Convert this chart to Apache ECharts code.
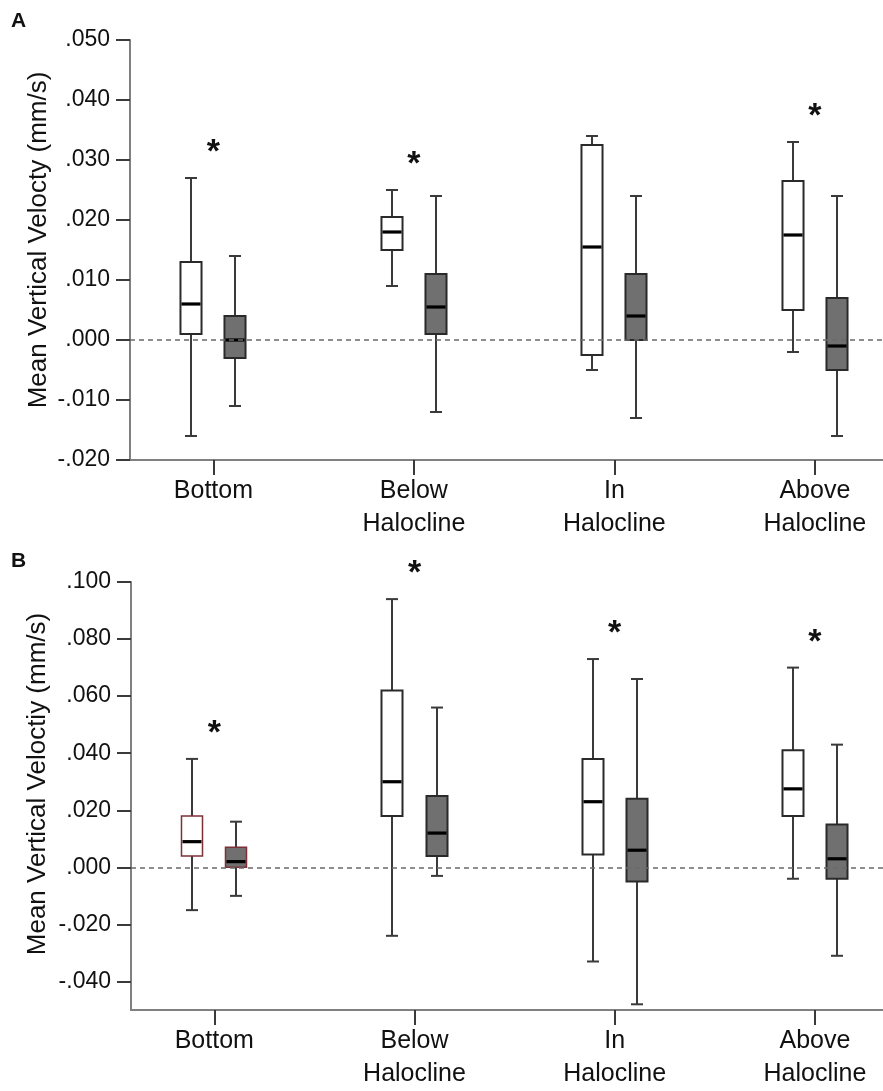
<!DOCTYPE html>
<html>
<head>
<meta charset="utf-8">
<title>Mean vertical velocity by layer</title>
<script src="https://cdn.jsdelivr.net/npm/echarts@6/dist/echarts.min.js"></script>
<style>
  html, body { margin: 0; padding: 0; background: #fff; }
  #chart { width: 883px; height: 1091px; }
</style>
</head>
<body>
<div id="chart"></div>
<script>
// Layers along the water column (x categories)
const categories = ['Bottom', 'Below\nHalocline', 'In\nHalocline', 'Above\nHalocline'];

// Box summaries per layer: [min, Q1, median, Q3, max]  (mm/s)
// Panel A
const aOpen = [
  [-0.016, 0.001, 0.006, 0.013, 0.027],
  [0.009, 0.015, 0.018, 0.0205, 0.025],
  [-0.005, -0.0025, 0.0155, 0.0325, 0.034],
  [-0.002, 0.005, 0.0175, 0.0265, 0.033]
];
const aShaded = [
  [-0.011, -0.003, 0.0, 0.004, 0.014],
  [-0.012, 0.001, 0.0055, 0.011, 0.024],
  [-0.013, 0.0, 0.004, 0.011, 0.024],
  [-0.016, -0.005, -0.001, 0.007, 0.024]
];
const aSignificant = [true, true, false, true];

// Panel B
const bOpen = [
  [-0.015, 0.004, 0.009, 0.018, 0.038],
  [-0.024, 0.018, 0.030, 0.062, 0.094],
  [-0.033, 0.0045, 0.023, 0.038, 0.073],
  [-0.004, 0.018, 0.0275, 0.041, 0.070]
];
const bShaded = [
  [-0.010, 0.0, 0.002, 0.007, 0.016],
  [-0.003, 0.004, 0.012, 0.025, 0.056],
  [-0.048, -0.005, 0.006, 0.024, 0.066],
  [-0.031, -0.004, 0.003, 0.015, 0.043]
];
const bSignificant = [true, true, true, true];

// Axis ticks
const aYTicks = [-0.02, -0.01, 0, 0.01, 0.02, 0.03, 0.04, 0.05];
const bYTicks = [-0.04, -0.02, 0, 0.02, 0.04, 0.06, 0.08, 0.1];
const xTicks = [0, 1, 2, 3];

// ---- drawing settings ----
const FONT = '"Liberation Sans", Arial, Helvetica, sans-serif';
const BOX_OFFSET = 0.11;   // half-distance between paired boxes (x units)
const BOX_W = 0.105;       // box width (x units)
const CAP_W = 0.06;        // whisker cap width (x units)
const SHADE = '#707070';
const EDGE = '#2a2a2a';
const WHISKER = '#3a3a3a';
const INK = '#111';

function fmtTick(v) {
  if (Math.abs(v) < 1e-9) return '.000';
  const s = Math.abs(v).toFixed(3).replace(/^0/, '');
  return (v < 0 ? '-' : '') + s;
}

function toItems(rows) {
  return rows.map((r, i) => [i].concat(r));
}

function boxRenderer(offset, fill, edgeFn) {
  return function (params, api) {
    const x = api.value(0) + offset;
    const lo = api.coord([x, api.value(1)]);
    const q1 = api.coord([x, api.value(2)]);
    const md = api.coord([x, api.value(3)]);
    const q3 = api.coord([x, api.value(4)]);
    const hi = api.coord([x, api.value(5)]);
    const bw = api.size([BOX_W, 0])[0];
    const cw = api.size([CAP_W, 0])[0];
    const cx = Math.round(lo[0]);
    const edge = edgeFn ? edgeFn(params.dataIndex) : null;
    const wStyle = { stroke: WHISKER, lineWidth: 2 };
    return {
      type: 'group',
      children: [
        { type: 'line', shape: { x1: cx, y1: hi[1], x2: cx, y2: q3[1] }, style: wStyle },
        { type: 'line', shape: { x1: cx, y1: q1[1], x2: cx, y2: lo[1] }, style: wStyle },
        { type: 'line', shape: { x1: cx - cw / 2, y1: hi[1], x2: cx + cw / 2, y2: hi[1] }, style: wStyle },
        { type: 'line', shape: { x1: cx - cw / 2, y1: lo[1], x2: cx + cw / 2, y2: lo[1] }, style: wStyle },
        {
          type: 'rect',
          shape: { x: cx - bw / 2, y: q3[1], width: bw, height: q1[1] - q3[1] },
          style: { fill: fill, stroke: edge || EDGE, lineWidth: edge ? 1.5 : 2 }
        },
        {
          type: 'line',
          shape: { x1: cx - bw / 2 + 1, y1: md[1], x2: cx + bw / 2 - 1, y2: md[1] },
          style: { stroke: '#000', lineWidth: 3.2 }
        }
      ]
    };
  };
}

// asterisk marks: placed a fixed gap above the taller whisker of each pair
function starItems(open, shaded, sig) {
  const out = [];
  sig.forEach((s, i) => {
    if (s) out.push([i, Math.max(open[i][4], shaded[i][4])]);
  });
  return out;
}
function starRenderer(params, api) {
  const p = api.coord([api.value(0), api.value(1)]);
  return {
    type: 'text',
    style: {
      text: '*',
      x: p[0],
      y: p[1] - 25,
      align: 'center',
      verticalAlign: 'middle',
      font: 'bold 34px ' + FONT,
      fill: INK
    }
  };
}

function xAxisFor(grid) {
  return {
    gridIndex: grid,
    type: 'value',
    min: -0.416,
    max: 3.34,
    splitLine: { show: false },
    axisLine: { show: true, onZero: false, lineStyle: { color: '#808080', width: 2 } },
    axisTick: { show: true, customValues: xTicks, length: 15, lineStyle: { color: '#3a3a3a', width: 2 } },
    axisLabel: {
      customValues: xTicks,
      formatter: v => categories[Math.round(v)],
      margin: 15,
      fontFamily: FONT,
      fontSize: 25,
      lineHeight: 33,
      color: INK
    }
  };
}

function yAxisFor(grid, min, max, ticks) {
  return {
    gridIndex: grid,
    type: 'value',
    min: min,
    max: max,
    splitLine: { show: false },
    axisLine: { show: true, onZero: false, lineStyle: { color: '#808080', width: 2 } },
    axisTick: { show: true, customValues: ticks, length: 14, lineStyle: { color: '#3a3a3a', width: 2 } },
    axisLabel: {
      customValues: ticks,
      formatter: fmtTick,
      margin: 20,
      fontFamily: FONT,
      fontSize: 23,
      color: INK
    }
  };
}

const zeroLine = {
  silent: true,
  symbol: 'none',
  label: { show: false },
  lineStyle: { type: [5, 4], color: '#6a6a6a', width: 1.5 },
  data: [{ yAxis: 0 }]
};

const panelBEdge = i => (i === 0 ? '#7d3038' : null);

const chart = echarts.init(document.getElementById('chart'), null, { renderer: 'canvas' });
chart.setOption({
  animation: false,
  backgroundColor: '#fff',
  grid: [
    { left: 130, top: 40, right: 0, height: 420 },
    { left: 131, top: 582, right: 0, height: 431 }
  ],
  xAxis: [xAxisFor(0), xAxisFor(1)],
  yAxis: [
    yAxisFor(0, -0.02, 0.05, aYTicks),
    yAxisFor(1, -0.05, 0.1, bYTicks)
  ],
  graphic: [
    { type: 'text', left: 11, top: 11, style: { text: 'A', font: 'bold 21px ' + FONT, fill: INK } },
    { type: 'text', left: 11, top: 551, style: { text: 'B', font: 'bold 21px ' + FONT, fill: INK } },
    {
      type: 'text', x: 39, y: 240, rotation: Math.PI / 2,
      style: { text: 'Mean Vertical Velocty (mm/s)', align: 'center', verticalAlign: 'middle', font: '26px ' + FONT, fill: INK }
    },
    {
      type: 'text', x: 38, y: 784, rotation: Math.PI / 2,
      style: { text: 'Mean Vertical Veloctiy (mm/s)', align: 'center', verticalAlign: 'middle', font: '26px ' + FONT, fill: INK }
    }
  ],
  series: [
    {
      type: 'custom', xAxisIndex: 0, yAxisIndex: 0, z: 2,
      encode: { x: 0, y: [1, 2, 3, 4, 5] },
      renderItem: boxRenderer(-BOX_OFFSET, '#fff', null),
      data: toItems(aOpen)
    },
    {
      type: 'custom', xAxisIndex: 0, yAxisIndex: 0, z: 3,
      encode: { x: 0, y: [1, 2, 3, 4, 5] },
      renderItem: boxRenderer(BOX_OFFSET, SHADE, null),
      data: toItems(aShaded),
      markLine: zeroLine
    },
    {
      type: 'custom', xAxisIndex: 0, yAxisIndex: 0, z: 4,
      encode: { x: 0, y: 1 },
      renderItem: starRenderer,
      data: starItems(aOpen, aShaded, aSignificant)
    },
    {
      type: 'custom', xAxisIndex: 1, yAxisIndex: 1, z: 2,
      encode: { x: 0, y: [1, 2, 3, 4, 5] },
      renderItem: boxRenderer(-BOX_OFFSET, '#fff', panelBEdge),
      data: toItems(bOpen)
    },
    {
      type: 'custom', xAxisIndex: 1, yAxisIndex: 1, z: 3,
      encode: { x: 0, y: [1, 2, 3, 4, 5] },
      renderItem: boxRenderer(BOX_OFFSET, SHADE, panelBEdge),
      data: toItems(bShaded),
      markLine: zeroLine
    },
    {
      type: 'custom', xAxisIndex: 1, yAxisIndex: 1, z: 4,
      encode: { x: 0, y: 1 },
      renderItem: starRenderer,
      clip: false,
      data: starItems(bOpen, bShaded, bSignificant)
    }
  ]
});
</script>
</body>
</html>
